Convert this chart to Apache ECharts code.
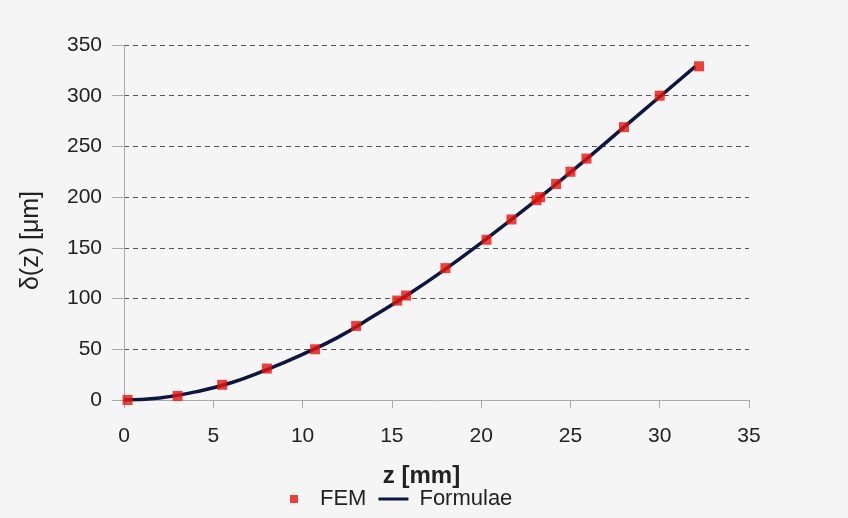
<!DOCTYPE html>
<html>
<head>
<meta charset="utf-8">
<script src="https://cdn.jsdelivr.net/npm/echarts@6/dist/echarts.min.js"></script>
<style>
  html, body { margin: 0; padding: 0; background: #f5f5f5; }
  #chart { width: 848px; height: 518px; }
</style>
</head>
<body>
<div id="chart"></div>
<script>
// FEM results, z [mm] and deflection [um]
var femZ = [0.2, 3, 5.5, 8, 10.7, 13, 15.3, 15.8, 18, 20.3, 21.7, 23.1, 23.3, 24.2, 25, 25.9, 28, 30, 32.2];
var femD = [0, 4, 15, 31, 50, 73, 98, 103, 130, 158, 178, 197, 200, 213, 225, 238, 269, 300, 329];

// analytical curve
var formZ = [0, 2, 4, 6, 8, 10, 12, 14, 16, 18, 20, 22, 24, 26, 28, 30, 32];
var formD = [0, 2, 8, 17, 30, 45, 62, 83, 105, 129, 155, 182, 210, 239, 269, 299, 329];

var xTicks = [0, 5, 10, 15, 20, 25, 30, 35];
var yTicks = [0, 50, 100, 150, 200, 250, 300, 350];

var myChart = echarts.init(document.getElementById('chart'));

var font = '"Liberation Sans", Arial, sans-serif';

myChart.setOption({
    backgroundColor: '#f5f5f5',
    animation: false,
    grid: {
        left: 124,
        right: 99,
        top: 45,
        bottom: 118
    },
    legend: {
        left: 285,
        bottom: 3,
        itemWidth: 30,
        itemHeight: 8,
        itemGap: 12,
        textStyle: { fontFamily: font, fontSize: 22, color: '#222', padding: [0, 0, 0, 6] },
        data: [
            { name: 'FEM', icon: 'path://M0,0h10v10h-10z' },
            { name: 'Formulae', icon: 'path://M0,0h30v3h-30z' }
        ]
    },
    xAxis: {
        type: 'value',
        min: xTicks[0],
        max: xTicks[xTicks.length - 1],
        interval: 5,
        name: 'z [mm]',
        nameLocation: 'middle',
        nameGap: 64,
        nameTextStyle: { fontFamily: font, fontSize: 24, fontWeight: 'bold', color: '#222', padding: [0, 30, 0, 0] },
        axisLine: { lineStyle: { color: '#aaa', width: 1 } },
        axisTick: { show: true, length: 8, lineStyle: { color: '#aaa' } },
        axisLabel: { fontFamily: font, fontSize: 21, color: '#222', margin: 26 },
        splitLine: { show: false }
    },
    yAxis: {
        type: 'value',
        min: yTicks[0],
        max: yTicks[yTicks.length - 1],
        interval: 50,
        name: 'δ(z) [μm]',
        nameLocation: 'middle',
        nameGap: 80,
        nameTextStyle: { fontFamily: font, fontSize: 25, color: '#222', padding: [0, 36, 0, 0] },
        axisLine: { show: true, lineStyle: { color: '#aaa', width: 1 } },
        axisTick: { show: true, length: 12, lineStyle: { color: '#aaa' } },
        axisLabel: { fontFamily: font, fontSize: 21, color: '#222', margin: 22 },
        splitLine: { show: true, lineStyle: { color: '#555', type: [5, 4], width: 1 } }
    },
    series: [
        {
            name: 'Formulae',
            type: 'line',
            data: formZ.map(function (z, i) { return [z, formD[i]]; }),
            smooth: true,
            symbol: 'none',
            lineStyle: { color: '#0b1740', width: 3.5 },
            itemStyle: { color: '#0b1740' },
            z: 2
        },
        {
            name: 'FEM',
            type: 'scatter',
            data: femZ.map(function (z, i) { return [z, femD[i]]; }),
            symbol: 'rect',
            symbolSize: 10,
            itemStyle: { color: '#e8130c' },
            z: 3
        }
    ]
});
</script>
</body>
</html>
